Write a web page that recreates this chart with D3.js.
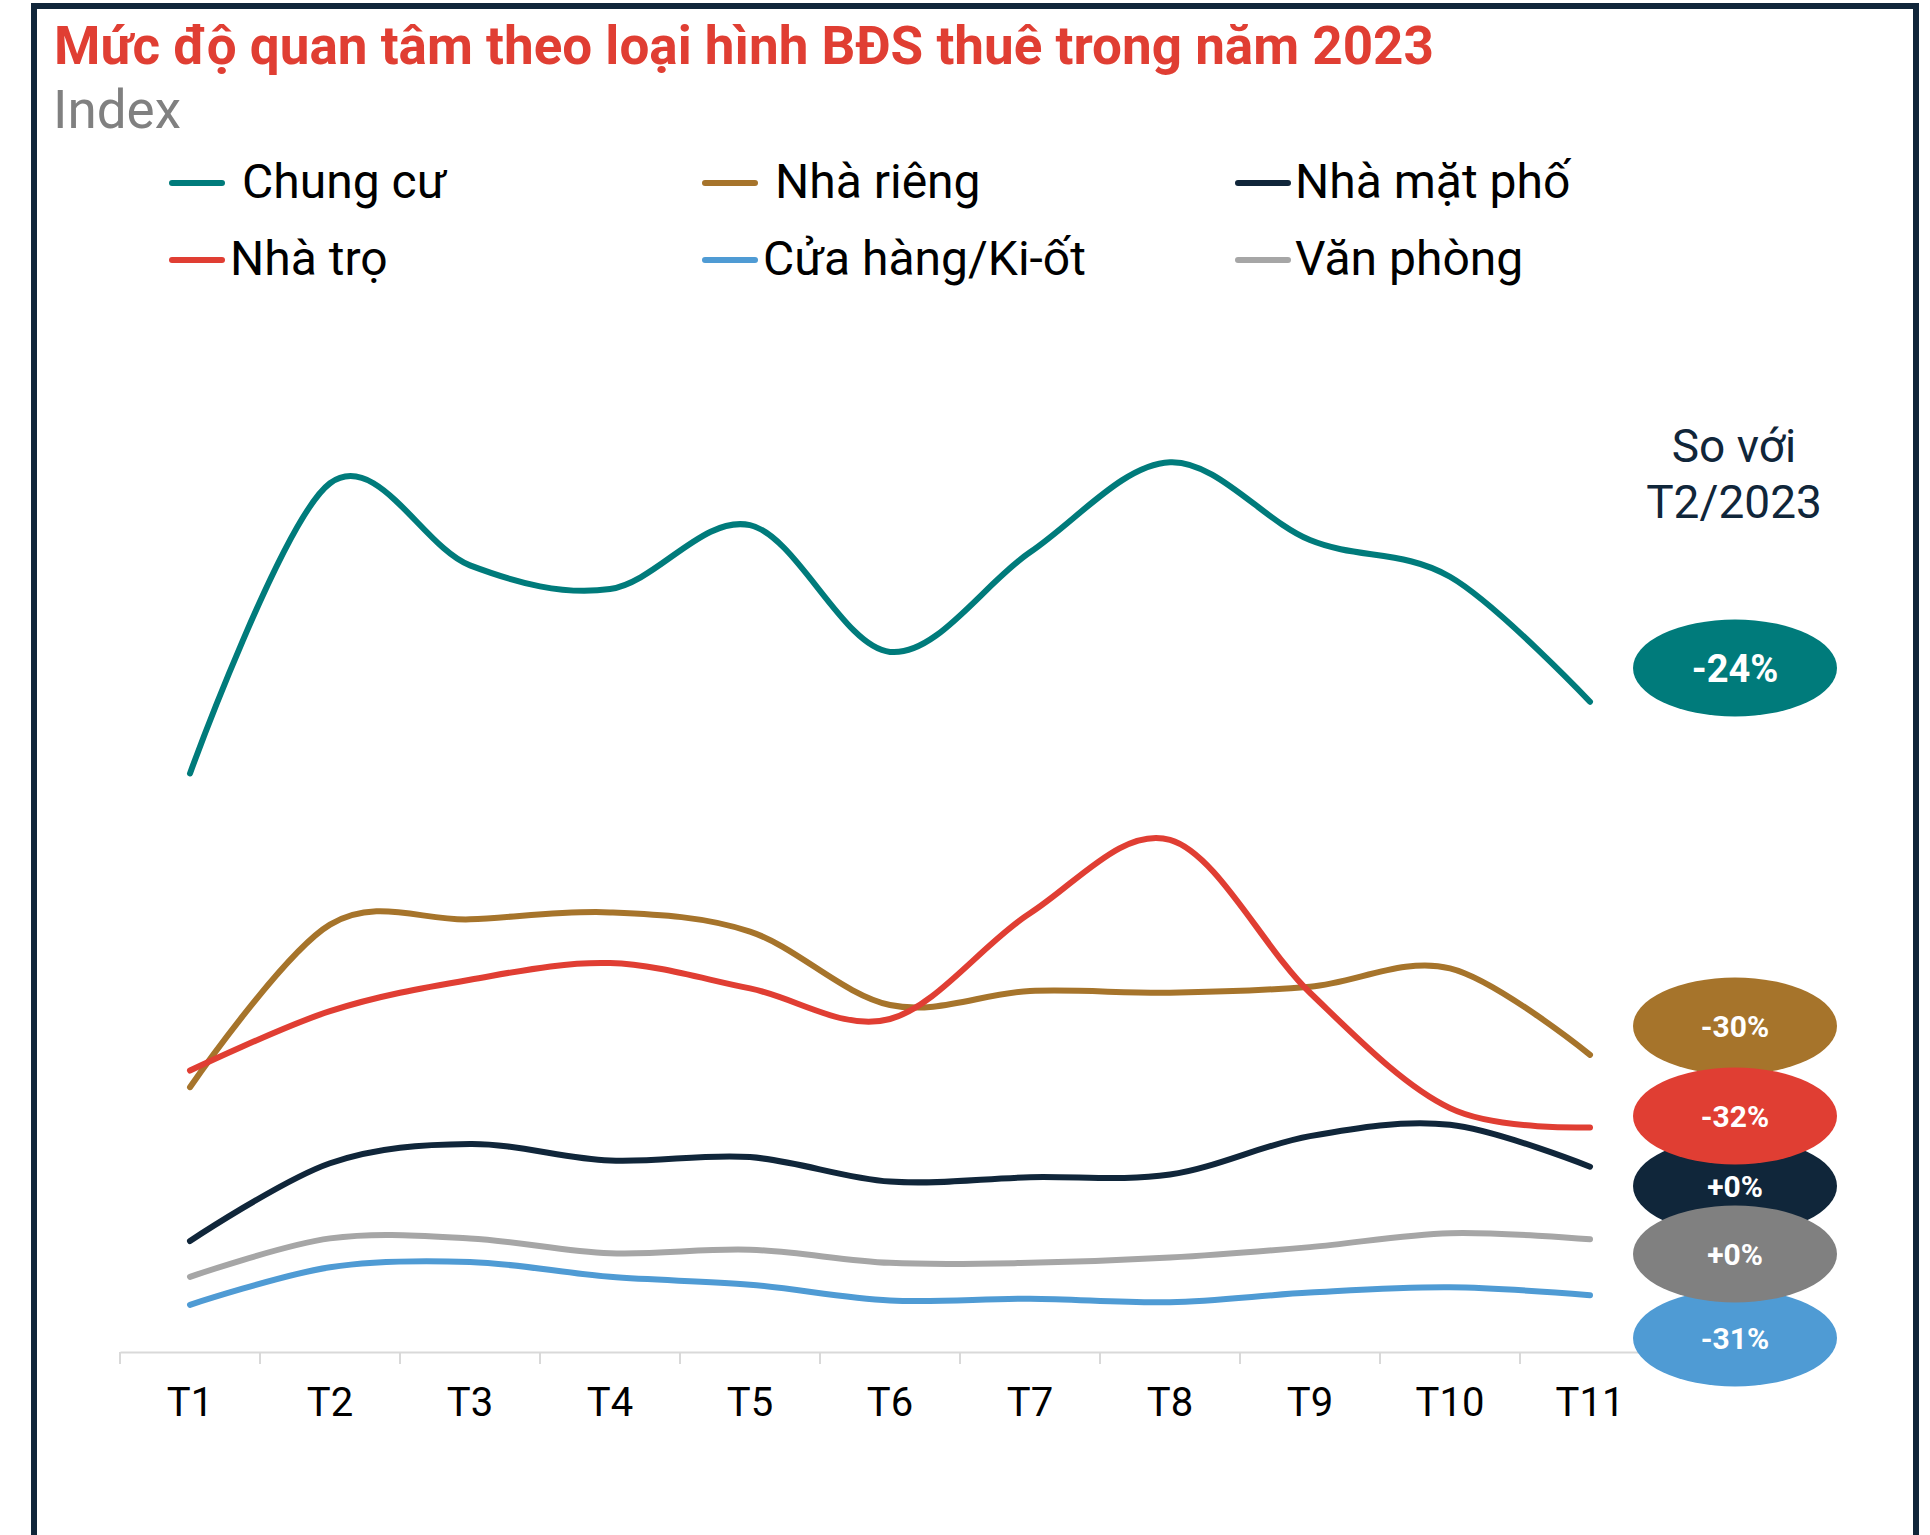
<!DOCTYPE html>
<html>
<head>
<meta charset="utf-8">
<script src="https://cdn.jsdelivr.net/npm/d3@7"></script>
<style>
  body { margin: 0; background: #fff; }
  svg { display: block; }
  text { font-family: Roboto, "Noto Sans", sans-serif; }
</style>
</head>
<body>
<div id="chart"></div>
<script>
// ---- data (index) ----
const months = ["T1", "T2", "T3", "T4", "T5", "T6", "T7", "T8", "T9", "T10", "T11"];
const seriesNames = ["Chung cư", "Nhà riêng", "Nhà mặt phố", "Nhà trọ", "Cửa hàng/Ki-ốt", "Văn phòng"];
const chungCu  = [66.2, 99.4, 90.0, 87.3, 94.6, 80.1, 91.5, 101.8, 92.9, 88.7, 74.4];
const nhaRieng = [30.3, 48.9, 49.5, 50.3, 48.1, 39.7, 41.3, 41.1, 41.8, 43.9, 34.0];
const nhaMatPho = [12.7, 21.6, 23.8, 21.9, 22.3, 19.5, 20.0, 20.3, 24.7, 26.0, 21.2];
const nhaTro   = [32.2, 39.0, 42.6, 44.5, 41.6, 38.1, 50.2, 58.6, 41.1, 27.9, 25.7];
const cuaHang  = [5.4, 9.7, 10.3, 8.6, 7.7, 5.9, 6.1, 5.7, 6.8, 7.4, 6.5];
const vanPhong = [8.6, 13.0, 13.0, 11.3, 11.7, 10.2, 10.2, 10.8, 12.0, 13.6, 12.9];
const changeLabels = ["-24%", "-30%", "+0%", "-32%", "-31%", "+0%"];

const seriesValues = [chungCu, nhaRieng, nhaMatPho, nhaTro, cuaHang, vanPhong];
const lineColors = ["#007b7b", "#a6742b", "#10263a", "#e03e33", "#4f9bd4", "#a6a6a6"];
const badgeColors = ["#007b7b", "#a6742b", "#10263a", "#e03e33", "#4f9bd4", "#808080"];

// ---- layout ----
let width = 1930, height = 1535;
let axisY = 1352;

let svg = d3.select("#chart").append("svg")
  .attr("width", width)
  .attr("height", height);

// frame (open at the bottom)
svg.append("path")
  .attr("d", `M34,${height + 10} L34,6 L1916,6 L1916,${height + 10}`)
  .attr("fill", "none")
  .attr("stroke", "#10263a")
  .attr("stroke-width", 6);

// title + subtitle
svg.append("text")
  .attr("x", 54).attr("y", 64)
  .attr("font-size", 53).attr("font-weight", 700)
  .attr("fill", "#e03e33")
  .text("Mức độ quan tâm theo loại hình BĐS thuê trong năm 2023");

svg.append("text")
  .attr("x", 53).attr("y", 128)
  .attr("font-size", 53)
  .attr("fill", "#808080")
  .text("Index");

// ---- scales ----
let xScale = d3.scaleBand()
  .domain(months)
  .range([120, 1660]);

let yScale = d3.scaleLinear()
  .domain([0, 100])
  .range([axisY, 478]);

// ---- x axis ----
let x_ax = svg.append("g").attr("transform", `translate(0,${axisY})`);
x_ax.call(d3.axisBottom(xScale).tickSize(0).tickPadding(36));
x_ax.select(".domain").attr("stroke", "#d9d9d9").attr("stroke-width", 2);
x_ax.selectAll(".tick text")
  .attr("font-family", "Roboto, sans-serif")
  .attr("font-size", 40)
  .attr("fill", "#000");

// tick marks sit on the boundaries between months
let bounds = months.map(m => xScale(m)).concat([xScale(months[months.length - 1]) + xScale.bandwidth()]);
x_ax.selectAll(".bound").data(bounds).enter().append("line")
  .attr("class", "bound")
  .attr("x1", d => d).attr("x2", d => d)
  .attr("y1", 0).attr("y2", 12)
  .attr("stroke", "#d9d9d9").attr("stroke-width", 2);

// ---- lines ----
let line = d3.line()
  .x((d, i) => xScale(months[i]) + xScale.bandwidth() / 2)
  .y(d => yScale(d))
  .curve(d3.curveCatmullRom.alpha(0));

svg.append("g").selectAll("path").data(seriesValues).enter().append("path")
  .attr("d", d => line(d))
  .attr("fill", "none")
  .attr("stroke", (d, i) => lineColors[i])
  .attr("stroke-width", 6)
  .attr("stroke-linecap", "round")
  .attr("stroke-linejoin", "round");

// ---- legend ----
let legendX = [169, 702, 1235];
let legendY = [183, 260];
let legendGap = [17, 17, 4, 5, 5, 4];
let leg = svg.append("g").selectAll("g").data(seriesNames).enter().append("g")
  .attr("transform", (d, i) => `translate(${legendX[i % 3]},${legendY[Math.floor(i / 3)]})`);
leg.append("line")
  .attr("x1", 3).attr("x2", 53).attr("y1", 0).attr("y2", 0)
  .attr("stroke", (d, i) => lineColors[i])
  .attr("stroke-width", 6)
  .attr("stroke-linecap", "round");
leg.append("text")
  .attr("x", (d, i) => 56 + legendGap[i])
  .attr("y", 15)
  .attr("font-size", 48)
  .attr("fill", "#000")
  .text(d => d);

// ---- "So với T2/2023" + badges ----
let note = svg.append("text")
  .attr("text-anchor", "middle")
  .attr("font-size", 46)
  .attr("fill", "#10263a");
note.append("tspan").attr("x", 1734).attr("y", 462).text("So với");
note.append("tspan").attr("x", 1734).attr("y", 518).text("T2/2023");

// badge centres; drawn in series order so red covers brown/navy and gray covers navy/blue
let badgeY = [668, 1026, 1186, 1116, 1338, 1254];
let badges = svg.append("g").selectAll("g").data(changeLabels).enter().append("g")
  .attr("transform", (d, i) => `translate(1735,${badgeY[i]})`);
badges.append("ellipse")
  .attr("rx", 102).attr("ry", 48.5)
  .attr("fill", (d, i) => badgeColors[i]);
badges.append("text")
  .attr("text-anchor", "middle")
  .attr("dy", "0.36em")
  .attr("font-size", (d, i) => i === 0 ? 38 : 30)
  .attr("font-weight", 700)
  .attr("fill", "#fff")
  .text(d => d);
</script>
</body>
</html>
